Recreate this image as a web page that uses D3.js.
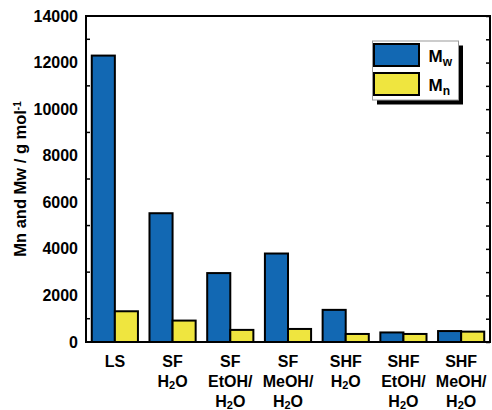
<!DOCTYPE html>
<html>
<head>
<meta charset="utf-8">
<script src="https://cdn.jsdelivr.net/npm/d3@7"></script>
<style>
  html, body { margin: 0; padding: 0; background: #fff; }
  svg text { font-family: "Liberation Sans", Arial, sans-serif; font-weight: bold; fill: #000; }
</style>
</head>
<body>
<svg id="chart" width="492" height="410"></svg>
<script>
// Sample groups (line 1 / line 2 / line 3 of each axis label)
const categories = ["LS", "SF H2O", "SF EtOH/H2O", "SF MeOH/H2O", "SHF H2O", "SHF EtOH/H2O", "SHF MeOH/H2O"];
const labelLines = [
  ["LS"],
  ["SF", "H2O"],
  ["SF", "EtOH/", "H2O"],
  ["SF", "MeOH/", "H2O"],
  ["SHF", "H2O"],
  ["SHF", "EtOH/", "H2O"],
  ["SHF", "MeOH/", "H2O"]
];
// Molecular weights, g/mol
const mwValues = [12300, 5530, 2960, 3800, 1380, 410, 470];
const mnValues = [1320, 920, 520, 560, 345, 345, 445];
const seriesKeys = ["Mw", "Mn"];
const seriesSub = ["w", "n"];
const yTicks = [0, 2000, 4000, 6000, 8000, 10000, 12000, 14000];
const yMinorTicks = [1000, 3000, 5000, 7000, 9000, 11000, 13000];
const yAllTicks = d3.range(0, 14001, 1000);

const colors = { Mw: "#1268b3", Mn: "#efe53f" };

const svg = d3.select("#chart");
const plot = { left: 86, right: 490, top: 16, bottom: 342 };

const x0 = d3.scaleBand().domain(categories).range([plot.left, plot.right]).padding(0);
const x1 = d3.scaleBand().domain(seriesKeys).range([0, x0.bandwidth()]).paddingInner(0).paddingOuter(0.25);
const y = d3.scaleLinear().domain([0, 14000]).range([plot.bottom, plot.top]);

const rows = categories.map((c, i) => ({ cat: c, Mw: mwValues[i], Mn: mnValues[i] }));

// Bars
const groups = svg.append("g").selectAll("g").data(rows).join("g")
  .attr("transform", d => `translate(${x0(d.cat)},0)`);
groups.selectAll("rect").data(d => seriesKeys.map(k => ({ key: k, value: d[k] }))).join("rect")
  .attr("x", d => x1(d.key))
  .attr("width", x1.bandwidth())
  .attr("y", d => y(d.value))
  .attr("height", d => y(0) - y(d.value))
  .attr("fill", d => colors[d.key])
  .attr("stroke", "#000")
  .attr("stroke-width", 2);

// Left axis: labels at even thousands, inward minor ticks at odd thousands
const leftAxis = svg.append("g").attr("transform", `translate(${plot.left},0)`)
  .call(d3.axisLeft(y).tickValues(yTicks).tickSize(0).tickPadding(8).tickFormat(d3.format("d")));
leftAxis.select(".domain").remove();
leftAxis.selectAll("text").style("font-size", "16px").style("font-family", "Liberation Sans, Arial, sans-serif").style("font-weight", "bold");
svg.append("g").selectAll("line").data(yMinorTicks).join("line")
  .attr("x1", plot.left).attr("x2", plot.left + 4)
  .attr("y1", d => y(d)).attr("y2", d => y(d))
  .attr("stroke", "#000").attr("stroke-width", 1.5);

// Right axis: inward ticks every 1000, no labels
const rightAxis = svg.append("g").attr("transform", `translate(${plot.right},0)`)
  .call(d3.axisLeft(y).tickValues(yAllTicks).tickSize(4).tickFormat(""));
rightAxis.select(".domain").remove();
rightAxis.selectAll("line").attr("stroke-width", 1.5);

// Frame
svg.append("rect")
  .attr("x", plot.left).attr("y", plot.top)
  .attr("width", plot.right - plot.left).attr("height", plot.bottom - plot.top)
  .attr("fill", "none").attr("stroke", "#000").attr("stroke-width", 2);

// Bottom category labels with subscripted digits
const xl = svg.append("g");
labelLines.forEach((lines, i) => {
  const cx = x0(categories[i]) + x0.bandwidth() / 2;
  lines.forEach((ln, j) => {
    const t = xl.append("text")
      .attr("x", cx).attr("y", 366.5 + j * 20)
      .attr("text-anchor", "middle")
      .style("font-size", "16px");
    const m = ln.match(/^(.*?H)(2)(O.*)$/);
    if (m) {
      t.append("tspan").text(m[1]);
      t.append("tspan").text(m[2]).attr("baseline-shift", "-22%").style("font-size", "11px");
      t.append("tspan").text(m[3]);
    } else {
      t.text(ln);
    }
  });
});

// Y axis title
const yt = svg.append("text")
  .attr("transform", `translate(26,${(plot.top + plot.bottom) / 2}) rotate(-90)`)
  .attr("text-anchor", "middle")
  .style("font-size", "16.5px");
yt.append("tspan").text("Mn and Mw / g mol");
yt.append("tspan").text("-1").attr("baseline-shift", "super").style("font-size", "10px");

// Legend with drop shadow
const lg = { x: 372.5, y: 41, w: 86, h: 59 };
svg.append("rect").attr("x", lg.x + 4.5).attr("y", lg.y + 4.5).attr("width", lg.w).attr("height", lg.h).attr("fill", "#000");
svg.append("rect").attr("x", lg.x).attr("y", lg.y).attr("width", lg.w).attr("height", lg.h)
  .attr("fill", "#fff").attr("stroke", "#999").attr("stroke-width", 1);
seriesKeys.forEach((k, i) => {
  const yy = lg.y + 3 + i * 29;
  svg.append("rect").attr("x", lg.x + 1.5).attr("y", yy).attr("width", 45).attr("height", 22)
    .attr("fill", colors[k]).attr("stroke", "#000").attr("stroke-width", 2);
  const t = svg.append("text").attr("x", lg.x + 56).attr("y", yy + 18).style("font-size", "17px");
  t.append("tspan").text("M");
  t.append("tspan").text(seriesSub[i]).attr("baseline-shift", "-30%").style("font-size", "12px");
});
</script>
</body>
</html>
